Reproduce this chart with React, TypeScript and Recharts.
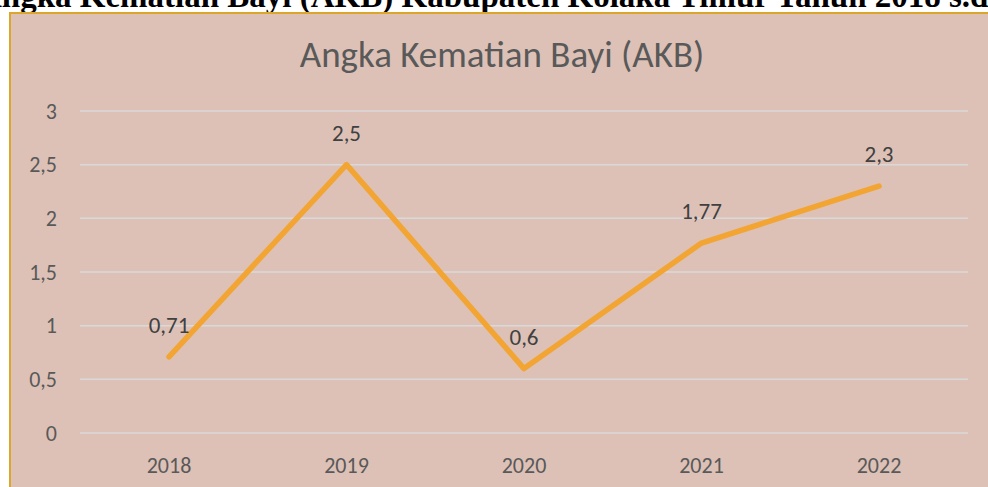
import React from "react";
import {
  LineChart,
  Line,
  XAxis,
  YAxis,
  CartesianGrid,
  LabelList,
} from "recharts";

const years = ["2018", "2019", "2020", "2021", "2022"];
const akb = [0.71, 2.5, 0.6, 1.77, 2.3];
const yTicks = [0, 0.5, 1, 1.5, 2, 2.5, 3];

const heading = "Angka Kematian Bayi (AKB) Kabupaten Kolaka Timur Tahun 2018 s.d 2022";
const chartTitle = "Angka Kematian Bayi (AKB)";

const data = years.map((year, i) => ({ year, akb: akb[i] }));

const fmt = (v: number) => String(v).replace(".", ",");

const font = "Carlito, 'Open Sans', sans-serif";

const renderLabel = (props: any) => {
  const { x, y, value } = props;
  return (
    <text
      x={x}
      y={y - 24}
      textAnchor="middle"
      fill="#404040"
      fontSize={23}
      fontFamily={font}
    >
      {fmt(value)}
    </text>
  );
};

const App: React.FC = () => {
  return (
    <div
      style={{
        position: "relative",
        width: 988,
        height: 487,
        overflow: "hidden",
        background: "#ffffff",
      }}
    >
      <style>{"body{margin:0}"}</style>
      {/* page heading, cut off at the top like in the screenshot */}
      <div
        style={{
          position: "absolute",
          left: -22,
          top: -20,
          whiteSpace: "nowrap",
          fontFamily: "'Liberation Serif', serif",
          fontWeight: "bold",
          fontSize: 33,
          lineHeight: "32px",
          color: "#000",
        }}
      >
        {heading}
      </div>
      <div
        style={{
          position: "absolute",
          left: 9,
          top: 12,
          width: 1000,
          height: 500,
          boxSizing: "border-box",
          border: "2px solid #DCA62A",
          background: "#DDC1B6",
        }}
      />
      <div
        style={{
          position: "absolute",
          left: 0,
          top: 33,
          width: 1004,
          textAlign: "center",
          fontFamily: font,
          fontSize: 37,
          color: "#595959",
          lineHeight: "44px",
        }}
      >
        {chartTitle}
      </div>
      <div style={{ position: "absolute", left: 0, top: 0 }}>
        <LineChart
          width={988}
          height={487}
          data={data}
          margin={{ top: 111, right: 20, bottom: 14, left: 0 }}
        >
          <CartesianGrid
            vertical={false}
            stroke="#D9D9D9"
            strokeWidth={1.5}
          />
          <XAxis
            dataKey="year"
            axisLine={false}
            tickLine={false}
            height={40}
            tickMargin={18}
            padding={{ left: 89, right: 89 }}
            tick={{ fill: "#595959", fontSize: 22, fontFamily: font }}
          />
          <YAxis
            domain={[0, 3]}
            ticks={yTicks}
            width={80}
            axisLine={false}
            tickLine={false}
            tickMargin={17}
            tickFormatter={fmt}
            tick={{ fill: "#595959", fontSize: 22, fontFamily: font }}
          />
          <Line
            type="linear"
            dataKey="akb"
            stroke="#F2A533"
            strokeWidth={5.5}
            strokeLinecap="round"
            strokeLinejoin="round"
            dot={false}
            isAnimationActive={false}
          >
            <LabelList dataKey="akb" content={renderLabel} />
          </Line>
        </LineChart>
      </div>
    </div>
  );
};

export default App;
